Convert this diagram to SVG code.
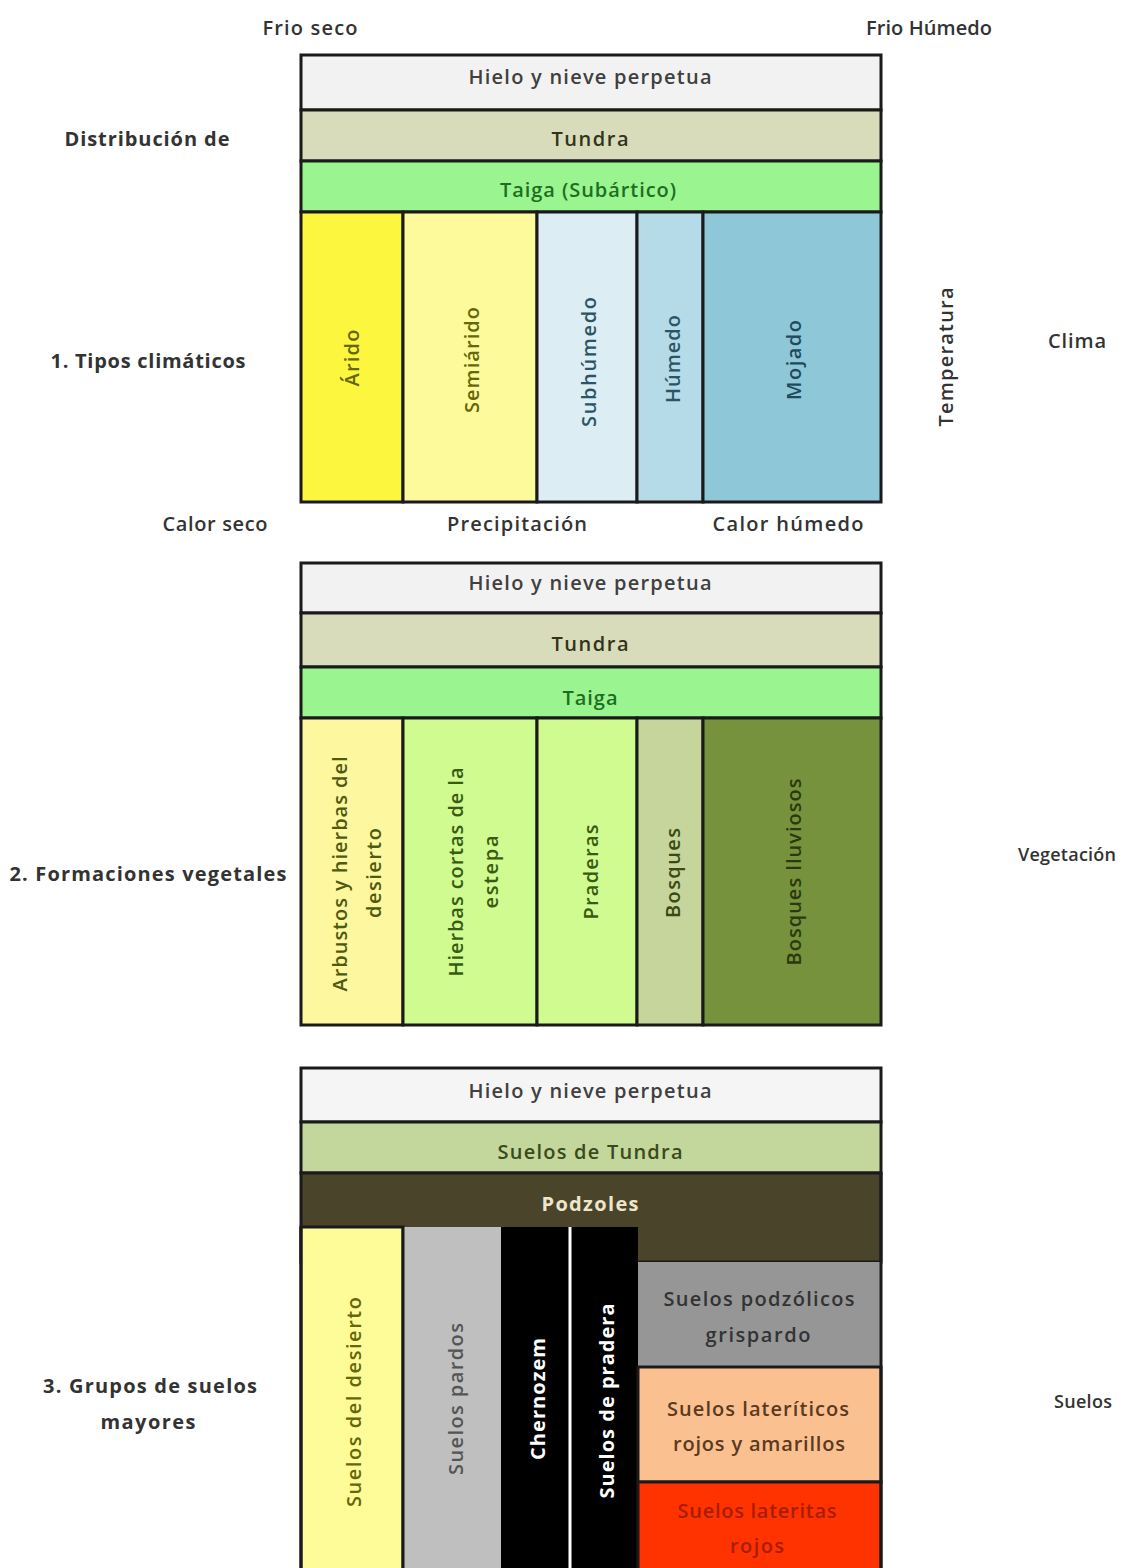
<svg xmlns="http://www.w3.org/2000/svg" width="1142" height="1568" viewBox="0 0 1142 1568">
<style>
text{font-family:"Open Sans","Liberation Sans",sans-serif;font-size:20px;font-weight:600;text-anchor:middle;dominant-baseline:central}
.b{font-weight:bold}
.s{font-size:18px}
.box{stroke:#1a1a1a;stroke-width:3}
.nb{stroke:none}
</style>
<rect width="1142" height="1568" fill="#ffffff"/>
<g id="labels" fill="#333333">
<text x="310" y="27" textLength="95" lengthAdjust="spacing">Frio seco</text>
<text x="929" y="27" textLength="126" lengthAdjust="spacing">Frio Húmedo</text>
<text x="147" y="138" class="b" textLength="165" lengthAdjust="spacing">Distribución de</text>
<text x="148" y="360" class="b" textLength="195" lengthAdjust="spacing">1. Tipos climáticos</text>
<text x="215" y="523" textLength="105" lengthAdjust="spacing">Calor seco</text>
<text x="517" y="523" textLength="140" lengthAdjust="spacing">Precipitación</text>
<text x="788" y="523" textLength="151" lengthAdjust="spacing">Calor húmedo</text>
<text transform="translate(945,357) rotate(-90)" textLength="139" lengthAdjust="spacing">Temperatura</text>
<text x="1077" y="340" textLength="58" lengthAdjust="spacing">Clima</text>
<text x="148" y="873" class="b" textLength="277" lengthAdjust="spacing">2. Formaciones vegetales</text>
<text x="1067" y="854" class="s" textLength="98" lengthAdjust="spacing">Vegetación</text>
<text x="150" y="1385" class="b" textLength="214" lengthAdjust="spacing">3. Grupos de suelos</text>
<text x="148" y="1421" class="b" textLength="95" lengthAdjust="spacing">mayores</text>
<text x="1083" y="1401" class="s" textLength="58" lengthAdjust="spacing">Suelos</text>
</g>

<g id="clima">
<g id="c-hielo"><rect class="box" x="301" y="55" width="580" height="55" fill="#f2f2f2"/><text x="590" y="76" textLength="243" lengthAdjust="spacing" fill="#404040">Hielo y nieve perpetua</text></g>
<g id="c-tundra"><rect class="box" x="301" y="110" width="580" height="51" fill="#d8dcba"/><text x="590" y="138" textLength="77" lengthAdjust="spacing" fill="#33331a">Tundra</text></g>
<g id="c-taiga"><rect class="box" x="301" y="161" width="580" height="51" fill="#9af590"/><text x="588" y="189" textLength="176" lengthAdjust="spacing" fill="#1f6e1f">Taiga (Subártico)</text></g>
<g id="c-arido"><rect class="box" x="301" y="212" width="102" height="290" fill="#fcf63f"/><text transform="translate(351,358) rotate(-90)" textLength="57" lengthAdjust="spacing" fill="#66660a">Árido</text></g>
<g id="c-semiarido"><rect class="box" x="403" y="212" width="134" height="290" fill="#fdfa9c"/><text transform="translate(471,360) rotate(-90)" textLength="106" lengthAdjust="spacing" fill="#66660a">Semiárido</text></g>
<g id="c-subhumedo"><rect class="box" x="537" y="212" width="100" height="290" fill="#dcedf4"/><text transform="translate(588,362) rotate(-90)" textLength="130" lengthAdjust="spacing" fill="#2a5566">Subhúmedo</text></g>
<g id="c-humedo"><rect class="box" x="637" y="212" width="66" height="290" fill="#b6dbe8"/><text transform="translate(672,359) rotate(-90)" textLength="88" lengthAdjust="spacing" fill="#2a5566">Húmedo</text></g>
<g id="c-mojado"><rect class="box" x="703" y="212" width="178" height="290" fill="#8ec7d8"/><text transform="translate(793,360) rotate(-90)" textLength="80" lengthAdjust="spacing" fill="#1f4a5c">Mojado</text></g>
</g>

<g id="vegetacion">
<g id="v-hielo"><rect class="box" x="301" y="563" width="580" height="50" fill="#f2f2f2"/><text x="590" y="582" textLength="243" lengthAdjust="spacing" fill="#404040">Hielo y nieve perpetua</text></g>
<g id="v-tundra"><rect class="box" x="301" y="613" width="580" height="54" fill="#d8dcba"/><text x="590" y="643" textLength="77" lengthAdjust="spacing" fill="#33331a">Tundra</text></g>
<g id="v-taiga"><rect class="box" x="301" y="667" width="580" height="51" fill="#9af590"/><text x="590" y="697" textLength="55" lengthAdjust="spacing" fill="#1f6e1f">Taiga</text></g>
<g id="v-arbustos"><rect class="box" x="301" y="718" width="102" height="307" fill="#fdf7a0"/><text transform="translate(339,874) rotate(-90)" textLength="235" lengthAdjust="spacing" fill="#4f5a10">Arbustos y hierbas del</text><text transform="translate(373,873) rotate(-90)" textLength="90" lengthAdjust="spacing" fill="#4f5a10">desierto</text></g>
<g id="v-hierbas"><rect class="box" x="403" y="718" width="134" height="307" fill="#cffb90"/><text transform="translate(455,872) rotate(-90)" textLength="209" lengthAdjust="spacing" fill="#3a5a12">Hierbas cortas de la</text><text transform="translate(490,872) rotate(-90)" textLength="73" lengthAdjust="spacing" fill="#3a5a12">estepa</text></g>
<g id="v-praderas"><rect class="box" x="537" y="718" width="100" height="307" fill="#cffb90"/><text transform="translate(590,872) rotate(-90)" textLength="95" lengthAdjust="spacing" fill="#3a5a12">Praderas</text></g>
<g id="v-bosques"><rect class="box" x="637" y="718" width="66" height="307" fill="#c5d59c"/><text transform="translate(672,873) rotate(-90)" textLength="90" lengthAdjust="spacing" fill="#3a4a12">Bosques</text></g>
<g id="v-lluviosos"><rect class="box" x="703" y="718" width="178" height="307" fill="#77923c"/><text transform="translate(793,872) rotate(-90)" textLength="187" lengthAdjust="spacing" fill="#2a3a10">Bosques lluviosos</text></g>
</g>

<g id="suelos">
<g id="s-hielo"><rect class="box" x="301" y="1068" width="580" height="54" fill="#f5f5f5"/><text x="590" y="1090" textLength="243" lengthAdjust="spacing" fill="#404040">Hielo y nieve perpetua</text></g>
<g id="s-tundra"><rect class="box" x="301" y="1122" width="580" height="51" fill="#c3d69b"/><text x="590" y="1151" textLength="185" lengthAdjust="spacing" fill="#3a4a1a">Suelos de Tundra</text></g>
<g id="s-podzoles"><rect class="box" x="301" y="1173" width="580" height="89" fill="#4a442a"/><text x="590" y="1203" class="b" textLength="97" lengthAdjust="spacing" fill="#eee6cc">Podzoles</text></g>
<g id="s-desierto"><rect class="box" x="301" y="1227" width="102" height="345" fill="#fdfc99"/><text transform="translate(353,1402) rotate(-90)" textLength="210" lengthAdjust="spacing" fill="#66660a">Suelos del desierto</text></g>
<g id="s-pardos"><rect class="nb" x="403" y="1227" width="98" height="345" fill="#bfbfbf"/><line x1="403" y1="1227" x2="403" y2="1568" stroke="#1a1a1a" stroke-width="3"/><text transform="translate(455,1399) rotate(-90)" textLength="152" lengthAdjust="spacing" fill="#555555">Suelos pardos</text></g>
<g id="s-chernozem"><rect class="nb" x="501" y="1227" width="68" height="345" fill="#000000"/><text transform="translate(537,1399) rotate(-90)" class="b" textLength="122" lengthAdjust="spacing" fill="#ffffff">Chernozem</text></g>
<g id="s-pradera"><rect class="nb" x="571" y="1227" width="67" height="345" fill="#000000"/><line x1="570" y1="1227" x2="570" y2="1568" stroke="#ffffff" stroke-width="3"/><text transform="translate(606,1401) rotate(-90)" class="b" textLength="195" lengthAdjust="spacing" fill="#ffffff">Suelos de pradera</text></g>
<g id="s-grispardo"><rect class="nb" x="638" y="1262" width="243" height="105" fill="#969696"/><text x="759" y="1298" textLength="191" lengthAdjust="spacing" fill="#333333">Suelos podzólicos</text><text x="758" y="1334" textLength="105" lengthAdjust="spacing" fill="#333333">grispardo</text></g>
<g id="s-lateriticos"><rect class="box" x="638" y="1367" width="243" height="115" fill="#fbc08f"/><text x="758" y="1408" textLength="182" lengthAdjust="spacing" fill="#5a3a20">Suelos lateríticos</text><text x="759" y="1443" textLength="172" lengthAdjust="spacing" fill="#5a3a20">rojos y amarillos</text></g>
<g id="s-lateritas"><rect class="box" x="638" y="1482" width="243" height="90" fill="#ff3300"/><text x="757" y="1510" textLength="159" lengthAdjust="spacing" fill="#a81c00">Suelos lateritas</text><text x="757" y="1545" textLength="54" lengthAdjust="spacing" fill="#a81c00">rojos</text></g>
<line x1="301" y1="1227" x2="301" y2="1568" stroke="#1a1a1a" stroke-width="3"/>
<line x1="881" y1="1173" x2="881" y2="1568" stroke="#1a1a1a" stroke-width="3"/>
</g>
<g id="connectors"/>
</svg>
